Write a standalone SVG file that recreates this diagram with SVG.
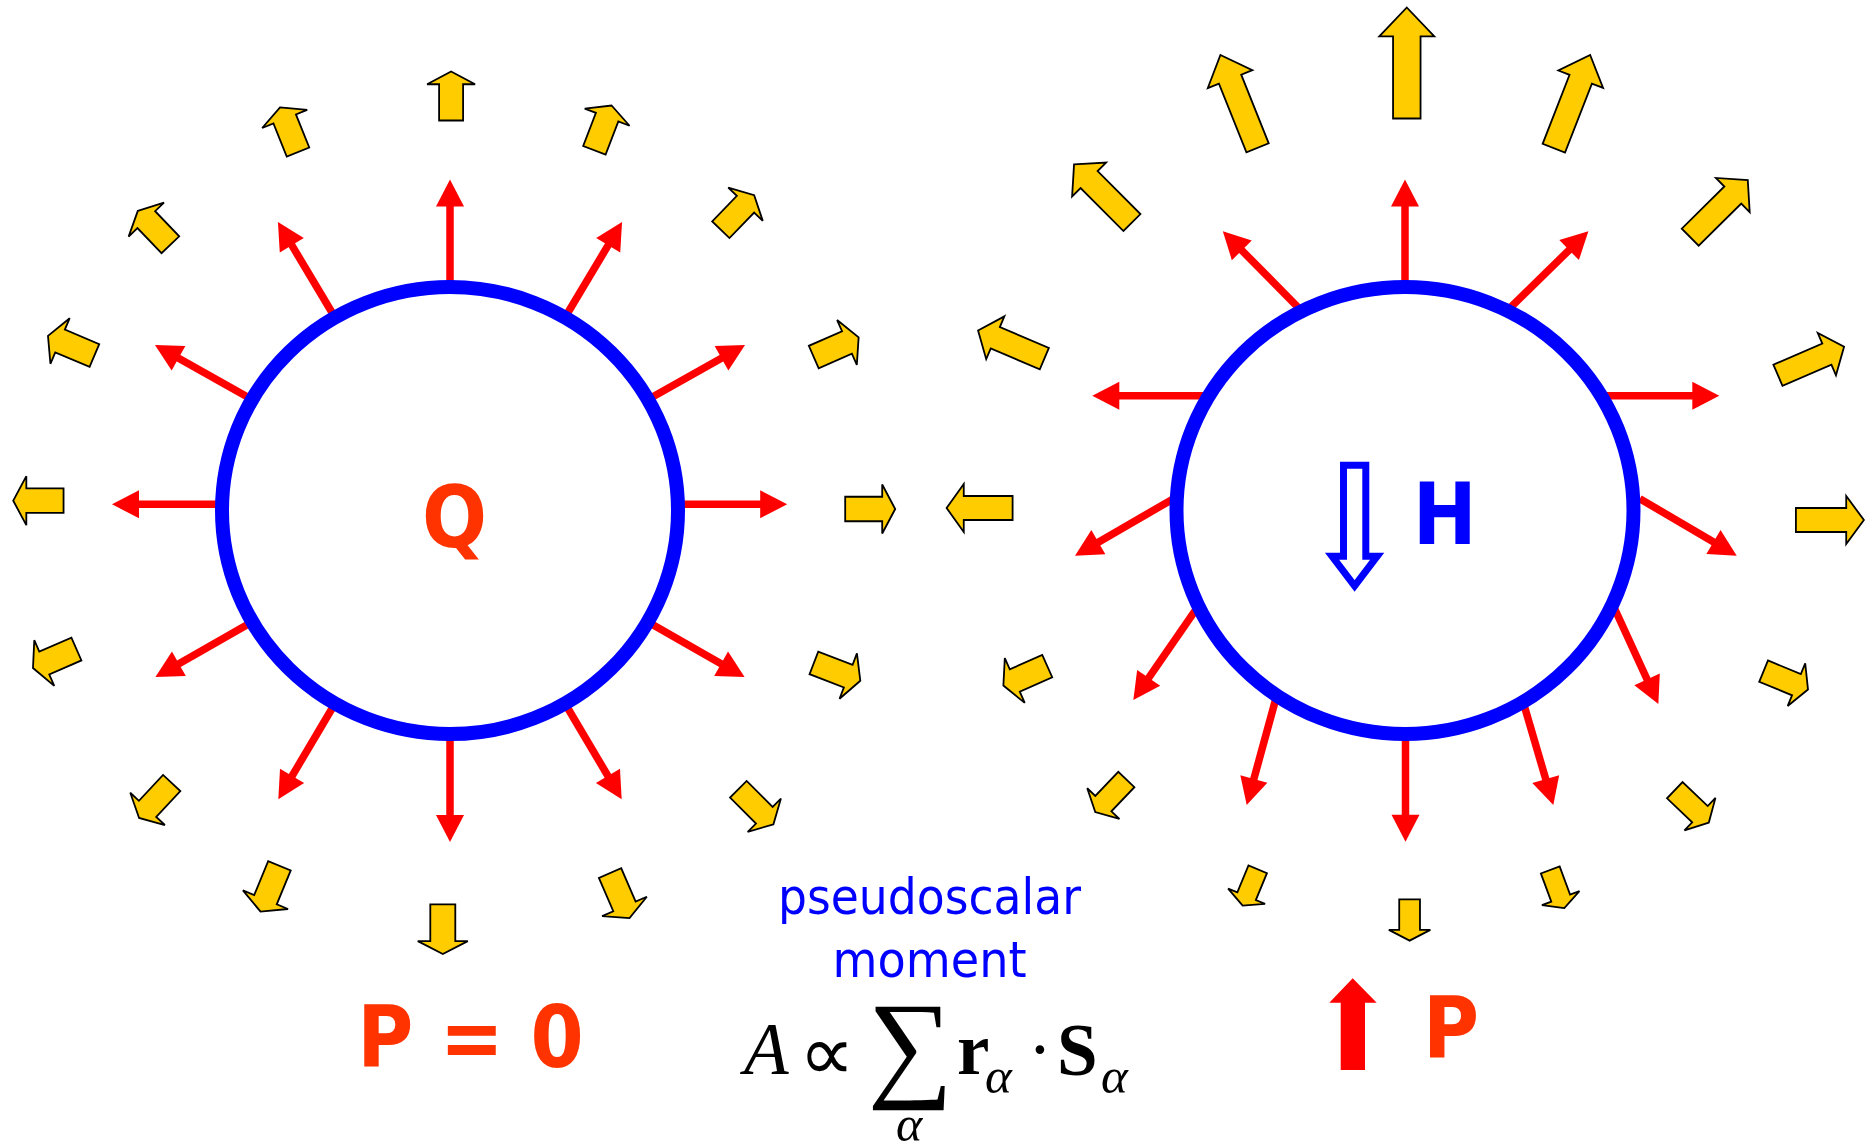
<svg xmlns="http://www.w3.org/2000/svg" xmlns:xlink="http://www.w3.org/1999/xlink" width="1873" height="1148" viewBox="0 0 1873 1148">
<style>
.ring{fill:none;stroke:#0000FF;stroke-width:14}
.ra{fill:none;stroke:#FF0000;stroke-width:7.5;marker-end:url(#rh)}
.ya{fill:#FFCC00;stroke:#000;stroke-width:1.8;stroke-linejoin:miter;vector-effect:non-scaling-stroke}
.big{font-family:'DejaVu Sans Condensed','DejaVu Sans',sans-serif;font-stretch:condensed;font-weight:bold;font-size:85px}
.lbl{font-family:'DejaVu Sans Condensed','DejaVu Sans',sans-serif;font-stretch:condensed;font-size:50px;fill:#0000FF;text-anchor:middle}
.m{font-family:'Liberation Serif','Times New Roman',serif;fill:#000}
</style>
<defs>
<marker id="rh" markerUnits="userSpaceOnUse" viewBox="-8 -15 30 30" markerWidth="30" markerHeight="30" refX="0" refY="0" orient="auto" overflow="visible">
<path d="M-7,-14 L20,0 L-7,14 Z" fill="#FF0000"/>
</marker>
<path id="ya" class="ya" d="M0,-0.5 L0.5,-0.24 L0.25,-0.24 L0.25,0.5 L-0.25,0.5 L-0.25,-0.24 L-0.5,-0.24 Z"/>
</defs>
<rect width="1873" height="1148" fill="#FFFFFF"/>

<g id="connectors">
<g id="red-arrows-left">
<path class="ra" d="M450,290 L450,199.4"/>
<path class="ra" d="M565,317.5 L611.8,239.2"/>
<path class="ra" d="M648,399.5 L727.6,354.8"/>
<path class="ra" d="M675,504.3 L767.2,504.3"/>
<path class="ra" d="M648,622 L727.2,667.2"/>
<path class="ra" d="M565,703.5 L611.5,782"/>
<path class="ra" d="M450,731 L450,822"/>
<path class="ra" d="M335,703.5 L288.5,782"/>
<path class="ra" d="M252,622 L172.8,667.2"/>
<path class="ra" d="M225,504.3 L132,504.3"/>
<path class="ra" d="M252,399.5 L172.4,354.8"/>
<path class="ra" d="M335,317.5 L288.2,239.2"/>
</g>
<g id="red-arrows-right">
<path class="ra" d="M1405,290 L1405,199.4"/>
<path class="ra" d="M1301,310.3 L1236.9,245.4"/>
<path class="ra" d="M1507.7,310.2 L1574.1,245.2"/>
<path class="ra" d="M1204,395.7 L1112.3,395.7"/>
<path class="ra" d="M1606,395.7 L1699.3,395.7"/>
<path class="ra" d="M1173.5,498.7 L1092.3,545.7"/>
<path class="ra" d="M1639.8,498.7 L1719.5,545.5"/>
<path class="ra" d="M1196.7,608.4 L1144.7,683.6"/>
<path class="ra" d="M1614.2,607.8 L1650,685.8"/>
<path class="ra" d="M1276.6,695.9 L1252,785.7"/>
<path class="ra" d="M1523.3,702.5 L1547.7,785.8"/>
<path class="ra" d="M1405.5,728 L1405.5,821.7"/>
</g>
</g>

<g id="left-charge">
<ellipse class="ring" cx="450" cy="510.5" rx="228" ry="223.5"/>
<text class="big" x="454.5" y="547" text-anchor="middle" fill="#FF3300">Q</text>
</g>

<g id="right-charge">
<ellipse class="ring" cx="1405" cy="510.5" rx="228.5" ry="223.5"/>
<path d="M1343.5,465.2 H1365.8 V556.2 H1377.2 L1354.6,585.9 L1332,556.2 H1343.5 Z" fill="#FFFFFF" stroke="#0000FF" stroke-width="7" stroke-linejoin="miter"/>
<text class="big" x="1444.7" y="544.3" text-anchor="middle" fill="#0000FF">H</text>
</g>

<g id="yellow-left">
<use xlink:href="#ya" transform="translate(451.1,96) rotate(0) scale(48,49)"/>
<use xlink:href="#ya" transform="translate(603,127.9) rotate(21) scale(48,48)"/>
<use xlink:href="#ya" transform="translate(737.5,212.5) rotate(44) scale(48,48)"/>
<use xlink:href="#ya" transform="translate(836.2,347.2) rotate(66.3) scale(49,49)"/>
<use xlink:href="#ya" transform="translate(870.2,509) rotate(90) scale(49,50)"/>
<use xlink:href="#ya" transform="translate(837.1,671.8) rotate(111) scale(48.5,49.7)"/>
<use xlink:href="#ya" transform="translate(755.9,806.8) rotate(135) scale(47,49.6)"/>
<use xlink:href="#ya" transform="translate(619.8,895.6) rotate(156.6) scale(48.7,49)"/>
<use xlink:href="#ya" transform="translate(442.8,929.2) rotate(180) scale(50,49.5)"/>
<use xlink:href="#ya" transform="translate(270,888.7) rotate(202.4) scale(48.8,49.6)"/>
<use xlink:href="#ya" transform="translate(155.4,800.5) rotate(223) scale(47.3,47.8)"/>
<use xlink:href="#ya" transform="translate(54.7,658.5) rotate(246.4) scale(49.9,47.4)"/>
<use xlink:href="#ya" transform="translate(38.4,500.7) rotate(270) scale(49,50.3)"/>
<use xlink:href="#ya" transform="translate(71.2,345.7) rotate(292.9) scale(49.5,50.4)"/>
<use xlink:href="#ya" transform="translate(154.1,227.8) rotate(316.2) scale(49,47)"/>
<use xlink:href="#ya" transform="translate(289,129.7) rotate(338.1) scale(48.5,48.2)"/>
</g>

<g id="yellow-right">
<use xlink:href="#ya" transform="translate(1406.8,63) rotate(0) scale(55,111)"/>
<use xlink:href="#ya" transform="translate(1239,101.4) rotate(-21.8) scale(48,100)"/>
<use xlink:href="#ya" transform="translate(1572,101.6) rotate(21.3) scale(48,100)"/>
<use xlink:href="#ya" transform="translate(1103,193.5) rotate(-44.9) scale(48,82)"/>
<use xlink:href="#ya" transform="translate(1719,208.7) rotate(45.3) scale(48,81)"/>
<use xlink:href="#ya" transform="translate(1011.2,344.5) rotate(-67) scale(46.5,72)"/>
<use xlink:href="#ya" transform="translate(1811,361) rotate(66.7) scale(46,72)"/>
<use xlink:href="#ya" transform="translate(979.6,508) rotate(-90) scale(48,66)"/>
<use xlink:href="#ya" transform="translate(1829.9,520) rotate(90) scale(48,68)"/>
<use xlink:href="#ya" transform="translate(1025.3,675.8) rotate(-114) scale(49,48)"/>
<use xlink:href="#ya" transform="translate(1785.8,680.3) rotate(112.4) scale(46,48)"/>
<use xlink:href="#ya" transform="translate(1110.8,795.8) rotate(-136.3) scale(44.5,45)"/>
<use xlink:href="#ya" transform="translate(1691.8,806.4) rotate(133.6) scale(45,47)"/>
<use xlink:href="#ya" transform="translate(1250.2,887.5) rotate(-157.5) scale(40,39.3)"/>
<use xlink:href="#ya" transform="translate(1557.3,889) rotate(159.7) scale(40,40.6)"/>
<use xlink:href="#ya" transform="translate(1409.6,920) rotate(180) scale(41.5,41.3)"/>
</g>

<g id="polarization">
<text class="big" x="470.5" y="1067.3" text-anchor="middle" fill="#FF3300" xml:space="preserve">P = 0</text>
<polygon points="1352.7,978.3 1376.7,1002.7 1365,1002.7 1365,1070 1340.7,1070 1340.7,1002.7 1329.3,1002.7" fill="#FF0000"/>
<text class="big" x="1451" y="1058.3" text-anchor="middle" fill="#FF3300">P</text>
</g>

<g id="pseudoscalar">
<text class="lbl" x="929.5" y="914" textLength="303" lengthAdjust="spacingAndGlyphs">pseudoscalar</text>
<text class="lbl" x="929.5" y="977.3" textLength="194" lengthAdjust="spacingAndGlyphs">moment</text>
<text class="m" x="744" y="1074.3" font-size="73" font-style="italic">A</text>
<text class="m" x="826.5" y="1080" font-size="78" text-anchor="middle">∝</text>
<text class="m" x="910.5" y="1085" font-size="120" text-anchor="middle">∑</text>
<text class="m" x="909" y="1141" font-size="50" font-style="italic" text-anchor="middle">α</text>
<text class="m" x="957" y="1074.3" font-size="73" font-weight="bold">r</text>
<text class="m" x="985" y="1093" font-size="51" font-style="italic">α</text>
<text class="m" x="1040" y="1074" font-size="73" text-anchor="middle">·</text>
<text class="m" x="1057" y="1075" font-size="73" font-weight="bold">S</text>
<text class="m" x="1101" y="1093" font-size="51" font-style="italic">α</text>
</g>
</svg>
